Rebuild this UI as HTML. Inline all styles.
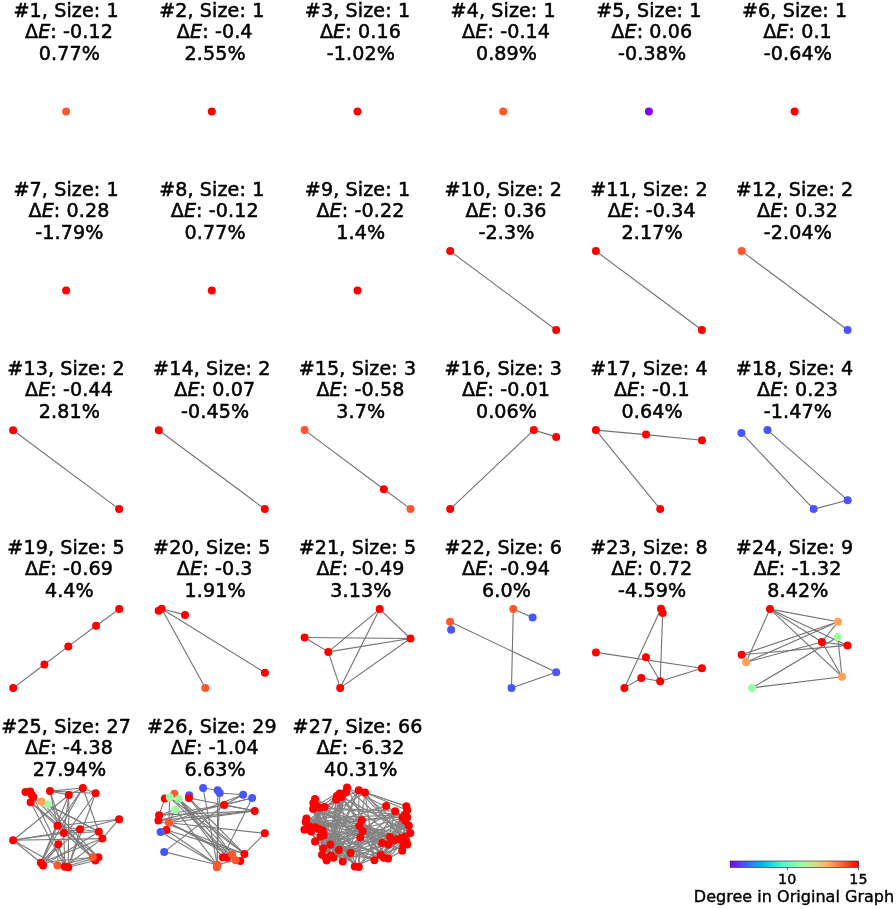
<!DOCTYPE html>
<html><head><meta charset="utf-8"><title>Subgraphs</title>
<style>
html,body{margin:0;padding:0;background:#fff}
svg{display:block}
text{font-family:"DejaVu Sans","Liberation Sans",sans-serif;fill:#000}
.t{font-size:18.67px;text-anchor:middle;letter-spacing:0.1px;stroke:#000;stroke-width:0.5px}
.i{font-style:oblique}
.e{stroke:#727272;stroke-width:1.1}
.m line{stroke:#7a7a7a}
.d line{stroke:#848484;stroke-width:1.2}
</style></head>
<body>
<svg width="896" height="909" viewBox="0 0 896 909">
<defs><linearGradient id="cb" x1="0" x2="1" y1="0" y2="0"><stop offset="0.00" stop-color="#8000ff"/><stop offset="0.05" stop-color="#6826fe"/><stop offset="0.10" stop-color="#4e4dfc"/><stop offset="0.15" stop-color="#3473f8"/><stop offset="0.20" stop-color="#1996f3"/><stop offset="0.25" stop-color="#00b5eb"/><stop offset="0.30" stop-color="#18cde4"/><stop offset="0.35" stop-color="#32e3da"/><stop offset="0.40" stop-color="#4df3ce"/><stop offset="0.45" stop-color="#66fcc2"/><stop offset="0.50" stop-color="#80ffb4"/><stop offset="0.55" stop-color="#99fca6"/><stop offset="0.60" stop-color="#b2f396"/><stop offset="0.65" stop-color="#cce385"/><stop offset="0.70" stop-color="#e6cd73"/><stop offset="0.75" stop-color="#ffb360"/><stop offset="0.80" stop-color="#ff964f"/><stop offset="0.85" stop-color="#ff733b"/><stop offset="0.90" stop-color="#ff4d27"/><stop offset="0.95" stop-color="#ff2613"/><stop offset="1.00" stop-color="#ff0000"/></linearGradient></defs>
<g class="t"><text transform="translate(66.1,16.8) scale(1.024,1)">#1, Size: 1</text><text transform="translate(69.0,37.5) scale(1.024,1)">Δ<tspan class="i">E</tspan>: -0.12</text><text transform="translate(69.4,59.7) scale(1.024,1)">0.77%</text></g>
<g class="s"><circle cx="66.1" cy="111.4" r="4" fill="#ff562c"/></g>
<g class="t"><text transform="translate(211.8,16.8) scale(1.024,1)">#2, Size: 1</text><text transform="translate(214.7,37.5) scale(1.024,1)">Δ<tspan class="i">E</tspan>: -0.4</text><text transform="translate(215.1,59.7) scale(1.024,1)">2.55%</text></g>
<g class="s"><circle cx="211.8" cy="111.4" r="4" fill="#ff0000"/></g>
<g class="t"><text transform="translate(357.5,16.8) scale(1.024,1)">#3, Size: 1</text><text transform="translate(360.4,37.5) scale(1.024,1)">Δ<tspan class="i">E</tspan>: 0.16</text><text transform="translate(360.8,59.7) scale(1.024,1)">-1.02%</text></g>
<g class="s"><circle cx="357.5" cy="111.4" r="4" fill="#ff0000"/></g>
<g class="t"><text transform="translate(503.2,16.8) scale(1.024,1)">#4, Size: 1</text><text transform="translate(506.1,37.5) scale(1.024,1)">Δ<tspan class="i">E</tspan>: -0.14</text><text transform="translate(506.5,59.7) scale(1.024,1)">0.89%</text></g>
<g class="s"><circle cx="503.2" cy="111.4" r="4" fill="#ff562c"/></g>
<g class="t"><text transform="translate(648.9,16.8) scale(1.024,1)">#5, Size: 1</text><text transform="translate(651.8,37.5) scale(1.024,1)">Δ<tspan class="i">E</tspan>: 0.06</text><text transform="translate(652.2,59.7) scale(1.024,1)">-0.38%</text></g>
<g class="s"><circle cx="648.9" cy="111.4" r="4" fill="#8000ff"/></g>
<g class="t"><text transform="translate(794.6,16.8) scale(1.024,1)">#6, Size: 1</text><text transform="translate(797.5,37.5) scale(1.024,1)">Δ<tspan class="i">E</tspan>: 0.1</text><text transform="translate(797.9,59.7) scale(1.024,1)">-0.64%</text></g>
<g class="s"><circle cx="794.6" cy="111.4" r="4" fill="#ff0000"/></g>
<g class="t"><text transform="translate(66.1,195.9) scale(1.024,1)">#7, Size: 1</text><text transform="translate(69.0,216.6) scale(1.024,1)">Δ<tspan class="i">E</tspan>: 0.28</text><text transform="translate(69.4,238.8) scale(1.024,1)">-1.79%</text></g>
<g class="s"><circle cx="66.1" cy="290.5" r="4" fill="#ff0000"/></g>
<g class="t"><text transform="translate(211.8,195.9) scale(1.024,1)">#8, Size: 1</text><text transform="translate(214.7,216.6) scale(1.024,1)">Δ<tspan class="i">E</tspan>: -0.12</text><text transform="translate(215.1,238.8) scale(1.024,1)">0.77%</text></g>
<g class="s"><circle cx="211.8" cy="290.5" r="4" fill="#ff0000"/></g>
<g class="t"><text transform="translate(357.5,195.9) scale(1.024,1)">#9, Size: 1</text><text transform="translate(360.4,216.6) scale(1.024,1)">Δ<tspan class="i">E</tspan>: -0.22</text><text transform="translate(360.8,238.8) scale(1.024,1)">1.4%</text></g>
<g class="s"><circle cx="357.5" cy="290.5" r="4" fill="#ff0000"/></g>
<g class="t"><text transform="translate(503.2,195.9) scale(1.024,1)">#10, Size: 2</text><text transform="translate(506.1,216.6) scale(1.024,1)">Δ<tspan class="i">E</tspan>: 0.36</text><text transform="translate(506.5,238.8) scale(1.024,1)">-2.3%</text></g>
<g class="s"><line class="e" x1="450.2" y1="251.1" x2="556.2" y2="330.0"/><circle cx="450.2" cy="251.1" r="4" fill="#ff0000"/><circle cx="556.2" cy="330.0" r="4" fill="#ff0000"/></g>
<g class="t"><text transform="translate(648.9,195.9) scale(1.024,1)">#11, Size: 2</text><text transform="translate(651.8,216.6) scale(1.024,1)">Δ<tspan class="i">E</tspan>: -0.34</text><text transform="translate(652.2,238.8) scale(1.024,1)">2.17%</text></g>
<g class="s"><line class="e" x1="595.9" y1="251.1" x2="701.9" y2="330.0"/><circle cx="595.9" cy="251.1" r="4" fill="#ff0000"/><circle cx="701.9" cy="330.0" r="4" fill="#ff0000"/></g>
<g class="t"><text transform="translate(794.6,195.9) scale(1.024,1)">#12, Size: 2</text><text transform="translate(797.5,216.6) scale(1.024,1)">Δ<tspan class="i">E</tspan>: 0.32</text><text transform="translate(797.9,238.8) scale(1.024,1)">-2.04%</text></g>
<g class="s"><line class="e" x1="741.6" y1="251.1" x2="847.6" y2="330.0"/><circle cx="741.6" cy="251.1" r="4" fill="#ff562c"/><circle cx="847.6" cy="330.0" r="4" fill="#4856fb"/></g>
<g class="t"><text transform="translate(66.1,375.0) scale(1.024,1)">#13, Size: 2</text><text transform="translate(69.0,395.7) scale(1.024,1)">Δ<tspan class="i">E</tspan>: -0.44</text><text transform="translate(69.4,417.9) scale(1.024,1)">2.81%</text></g>
<g class="s"><line class="e" x1="13.1" y1="430.2" x2="119.1" y2="509.1"/><circle cx="13.1" cy="430.2" r="4" fill="#ff0000"/><circle cx="119.1" cy="509.1" r="4" fill="#ff0000"/></g>
<g class="t"><text transform="translate(211.8,375.0) scale(1.024,1)">#14, Size: 2</text><text transform="translate(214.7,395.7) scale(1.024,1)">Δ<tspan class="i">E</tspan>: 0.07</text><text transform="translate(215.1,417.9) scale(1.024,1)">-0.45%</text></g>
<g class="s"><line class="e" x1="158.8" y1="430.2" x2="264.8" y2="509.1"/><circle cx="158.8" cy="430.2" r="4" fill="#ff0000"/><circle cx="264.8" cy="509.1" r="4" fill="#ff0000"/></g>
<g class="t"><text transform="translate(357.5,375.0) scale(1.024,1)">#15, Size: 3</text><text transform="translate(360.4,395.7) scale(1.024,1)">Δ<tspan class="i">E</tspan>: -0.58</text><text transform="translate(360.8,417.9) scale(1.024,1)">3.7%</text></g>
<g class="s"><line class="e" x1="304.6" y1="430.1" x2="383.9" y2="489.3"/><line class="e" x1="383.9" y1="489.3" x2="410.5" y2="508.9"/><circle cx="304.6" cy="430.1" r="4" fill="#ff562c"/><circle cx="383.9" cy="489.3" r="4" fill="#ff0000"/><circle cx="410.5" cy="508.9" r="4" fill="#ff562c"/></g>
<g class="t"><text transform="translate(503.2,375.0) scale(1.024,1)">#16, Size: 3</text><text transform="translate(506.1,395.7) scale(1.024,1)">Δ<tspan class="i">E</tspan>: -0.01</text><text transform="translate(506.5,417.9) scale(1.024,1)">0.06%</text></g>
<g class="s"><line class="e" x1="450.2" y1="509.1" x2="533.8" y2="430.1"/><line class="e" x1="533.8" y1="430.1" x2="556.2" y2="436.9"/><circle cx="450.2" cy="509.1" r="4" fill="#ff0000"/><circle cx="533.8" cy="430.1" r="4" fill="#ff0000"/><circle cx="556.2" cy="436.9" r="4" fill="#ff0000"/></g>
<g class="t"><text transform="translate(648.9,375.0) scale(1.024,1)">#17, Size: 4</text><text transform="translate(651.8,395.7) scale(1.024,1)">Δ<tspan class="i">E</tspan>: -0.1</text><text transform="translate(652.2,417.9) scale(1.024,1)">0.64%</text></g>
<g class="s"><line class="e" x1="595.9" y1="430.1" x2="646.0" y2="434.6"/><line class="e" x1="646.0" y1="434.6" x2="702.0" y2="440.3"/><line class="e" x1="595.9" y1="430.1" x2="660.2" y2="509.1"/><circle cx="595.9" cy="430.1" r="4" fill="#ff0000"/><circle cx="646.0" cy="434.6" r="4" fill="#ff0000"/><circle cx="702.0" cy="440.3" r="4" fill="#ff0000"/><circle cx="660.2" cy="509.1" r="4" fill="#ff0000"/></g>
<g class="t"><text transform="translate(794.6,375.0) scale(1.024,1)">#18, Size: 4</text><text transform="translate(797.5,395.7) scale(1.024,1)">Δ<tspan class="i">E</tspan>: 0.23</text><text transform="translate(797.9,417.9) scale(1.024,1)">-1.47%</text></g>
<g class="s"><line class="e" x1="741.4" y1="432.9" x2="813.6" y2="509.1"/><line class="e" x1="767.5" y1="430.1" x2="847.7" y2="500.2"/><line class="e" x1="813.6" y1="509.1" x2="847.7" y2="500.2"/><circle cx="741.4" cy="432.9" r="4" fill="#4856fb"/><circle cx="767.5" cy="430.1" r="4" fill="#4856fb"/><circle cx="813.6" cy="509.1" r="4" fill="#4856fb"/><circle cx="847.7" cy="500.2" r="4" fill="#4856fb"/></g>
<g class="t"><text transform="translate(66.1,554.1) scale(1.024,1)">#19, Size: 5</text><text transform="translate(69.0,574.8) scale(1.024,1)">Δ<tspan class="i">E</tspan>: -0.69</text><text transform="translate(69.4,597.0) scale(1.024,1)">4.4%</text></g>
<g class="s"><line class="e" x1="13.2" y1="688.1" x2="44.4" y2="664.5"/><line class="e" x1="44.4" y1="664.5" x2="68.3" y2="646.4"/><line class="e" x1="68.3" y1="646.4" x2="96.1" y2="625.8"/><line class="e" x1="96.1" y1="625.8" x2="119.2" y2="609.1"/><circle cx="13.2" cy="688.1" r="4" fill="#ff0000"/><circle cx="44.4" cy="664.5" r="4" fill="#ff0000"/><circle cx="68.3" cy="646.4" r="4" fill="#ff0000"/><circle cx="96.1" cy="625.8" r="4" fill="#ff0000"/><circle cx="119.2" cy="609.1" r="4" fill="#ff0000"/></g>
<g class="t"><text transform="translate(211.8,554.1) scale(1.024,1)">#20, Size: 5</text><text transform="translate(214.7,574.8) scale(1.024,1)">Δ<tspan class="i">E</tspan>: -0.3</text><text transform="translate(215.1,597.0) scale(1.024,1)">1.91%</text></g>
<g class="s"><line class="e" x1="158.6" y1="610.7" x2="161.7" y2="608.7"/><line class="e" x1="161.7" y1="608.7" x2="185.0" y2="614.9"/><line class="e" x1="161.7" y1="608.7" x2="264.9" y2="672.7"/><line class="e" x1="161.7" y1="608.7" x2="205.3" y2="687.9"/><circle cx="158.6" cy="610.7" r="4" fill="#ff0000"/><circle cx="161.7" cy="608.7" r="4" fill="#ff0000"/><circle cx="185.0" cy="614.9" r="4" fill="#ff0000"/><circle cx="264.9" cy="672.7" r="4" fill="#ff0000"/><circle cx="205.3" cy="687.9" r="4" fill="#ff562c"/></g>
<g class="t"><text transform="translate(357.5,554.1) scale(1.024,1)">#21, Size: 5</text><text transform="translate(360.4,574.8) scale(1.024,1)">Δ<tspan class="i">E</tspan>: -0.49</text><text transform="translate(360.8,597.0) scale(1.024,1)">3.13%</text></g>
<g class="s"><line class="e" x1="304.6" y1="637.5" x2="328.3" y2="651.9"/><line class="e" x1="304.6" y1="637.5" x2="410.5" y2="638.5"/><line class="e" x1="328.3" y1="651.9" x2="379.7" y2="609.1"/><line class="e" x1="328.3" y1="651.9" x2="410.5" y2="638.5"/><line class="e" x1="328.3" y1="651.9" x2="340.2" y2="687.9"/><line class="e" x1="379.7" y1="609.1" x2="410.5" y2="638.5"/><line class="e" x1="379.7" y1="609.1" x2="340.2" y2="687.9"/><line class="e" x1="410.5" y1="638.5" x2="340.2" y2="687.9"/><circle cx="304.6" cy="637.5" r="4" fill="#ff0000"/><circle cx="328.3" cy="651.9" r="4" fill="#ff0000"/><circle cx="379.7" cy="609.1" r="4" fill="#ff0000"/><circle cx="410.5" cy="638.5" r="4" fill="#ff0000"/><circle cx="340.2" cy="687.9" r="4" fill="#ff0000"/></g>
<g class="t"><text transform="translate(503.2,554.1) scale(1.024,1)">#22, Size: 6</text><text transform="translate(506.1,574.8) scale(1.024,1)">Δ<tspan class="i">E</tspan>: -0.94</text><text transform="translate(506.5,597.0) scale(1.024,1)">6.0%</text></g>
<g class="s"><line class="e" x1="451.1" y1="629.8" x2="450.1" y2="621.8"/><line class="e" x1="450.1" y1="621.8" x2="556.2" y2="672.2"/><line class="e" x1="513.3" y1="609.1" x2="532.6" y2="617.4"/><line class="e" x1="513.3" y1="609.1" x2="511.5" y2="687.9"/><line class="e" x1="556.2" y1="672.2" x2="511.5" y2="687.9"/><circle cx="451.1" cy="629.8" r="4" fill="#4856fb"/><circle cx="450.1" cy="621.8" r="4" fill="#ff562c"/><circle cx="513.3" cy="609.1" r="4" fill="#ff562c"/><circle cx="532.6" cy="617.4" r="4" fill="#4856fb"/><circle cx="556.2" cy="672.2" r="4" fill="#4856fb"/><circle cx="511.5" cy="687.9" r="4" fill="#4856fb"/></g>
<g class="t"><text transform="translate(648.9,554.1) scale(1.024,1)">#23, Size: 8</text><text transform="translate(651.8,574.8) scale(1.024,1)">Δ<tspan class="i">E</tspan>: 0.72</text><text transform="translate(652.2,597.0) scale(1.024,1)">-4.59%</text></g>
<g class="s"><line class="e" x1="661.0" y1="608.7" x2="624.4" y2="687.9"/><line class="e" x1="662.7" y1="612.9" x2="660.2" y2="681.2"/><line class="e" x1="595.9" y1="652.4" x2="701.9" y2="668.2"/><line class="e" x1="646.0" y1="657.3" x2="660.2" y2="681.2"/><line class="e" x1="641.3" y1="678.0" x2="660.2" y2="681.2"/><line class="e" x1="641.3" y1="678.0" x2="624.4" y2="687.9"/><line class="e" x1="660.2" y1="681.2" x2="701.9" y2="668.2"/><line class="e" x1="661.0" y1="608.7" x2="662.7" y2="612.9"/><circle cx="661.0" cy="608.7" r="4" fill="#ff0000"/><circle cx="662.7" cy="612.9" r="4" fill="#ff0000"/><circle cx="595.9" cy="652.4" r="4" fill="#ff0000"/><circle cx="646.0" cy="657.3" r="4" fill="#ff0000"/><circle cx="701.9" cy="668.2" r="4" fill="#ff0000"/><circle cx="641.3" cy="678.0" r="4" fill="#ff0000"/><circle cx="660.2" cy="681.2" r="4" fill="#ff0000"/><circle cx="624.4" cy="687.9" r="4" fill="#ff0000"/></g>
<g class="t"><text transform="translate(794.6,554.1) scale(1.024,1)">#24, Size: 9</text><text transform="translate(797.5,574.8) scale(1.024,1)">Δ<tspan class="i">E</tspan>: -1.32</text><text transform="translate(797.9,597.0) scale(1.024,1)">8.42%</text></g>
<g class="s"><line class="e" x1="770.0" y1="609.1" x2="838.0" y2="621.8"/><line class="e" x1="770.0" y1="609.1" x2="847.5" y2="645.4"/><line class="e" x1="770.0" y1="609.1" x2="821.9" y2="642.0"/><line class="e" x1="770.0" y1="609.1" x2="842.0" y2="676.7"/><line class="e" x1="770.0" y1="609.1" x2="746.1" y2="662.3"/><line class="e" x1="838.0" y1="621.8" x2="741.6" y2="654.8"/><line class="e" x1="838.0" y1="621.8" x2="746.1" y2="662.3"/><line class="e" x1="838.0" y1="621.8" x2="821.9" y2="642.0"/><line class="e" x1="741.6" y1="654.8" x2="847.5" y2="645.4"/><line class="e" x1="746.1" y1="662.3" x2="821.9" y2="642.0"/><line class="e" x1="837.7" y1="637.0" x2="752.1" y2="687.9"/><line class="e" x1="837.7" y1="637.0" x2="842.0" y2="676.7"/><line class="e" x1="821.9" y1="642.0" x2="842.0" y2="676.7"/><line class="e" x1="842.0" y1="676.7" x2="752.1" y2="687.9"/><line class="e" x1="821.9" y1="642.0" x2="847.5" y2="645.4"/><circle cx="770.0" cy="609.1" r="4" fill="#ff0000"/><circle cx="838.0" cy="621.8" r="4" fill="#ffa256"/><circle cx="837.7" cy="637.0" r="4" fill="#9cfba4"/><circle cx="821.9" cy="642.0" r="4" fill="#ff0000"/><circle cx="847.5" cy="645.4" r="4" fill="#ff0000"/><circle cx="741.6" cy="654.8" r="4" fill="#ff0000"/><circle cx="746.1" cy="662.3" r="4" fill="#ffa256"/><circle cx="842.0" cy="676.7" r="4" fill="#ffa256"/><circle cx="752.1" cy="687.9" r="4" fill="#9cfba4"/></g>
<g class="t"><text transform="translate(66.1,733.2) scale(1.024,1)">#25, Size: 27</text><text transform="translate(69.0,753.9) scale(1.024,1)">Δ<tspan class="i">E</tspan>: -4.38</text><text transform="translate(69.4,776.1) scale(1.024,1)">27.94%</text></g>
<g class="m"><line class="e" x1="13.1" y1="840.2" x2="68.8" y2="795.0"/><line class="e" x1="13.1" y1="840.2" x2="80.0" y2="829.2"/><line class="e" x1="13.1" y1="840.2" x2="102.3" y2="838.6"/><line class="e" x1="13.1" y1="840.2" x2="40.9" y2="862.8"/><line class="e" x1="13.1" y1="840.2" x2="57.5" y2="865.6"/><line class="e" x1="13.1" y1="840.2" x2="63.8" y2="833.1"/><line class="e" x1="119.1" y1="819.2" x2="57.5" y2="825.8"/><line class="e" x1="119.1" y1="819.2" x2="63.8" y2="833.1"/><line class="e" x1="119.1" y1="819.2" x2="102.3" y2="838.6"/><line class="e" x1="50.0" y1="791.1" x2="95.6" y2="793.3"/><line class="e" x1="68.8" y1="795.0" x2="82.8" y2="788.0"/><line class="e" x1="82.8" y1="788.0" x2="95.6" y2="793.3"/><line class="e" x1="50.0" y1="791.1" x2="68.8" y2="795.0"/><line class="e" x1="50.0" y1="791.1" x2="82.8" y2="788.0"/><line class="e" x1="82.8" y1="788.0" x2="98.8" y2="831.7"/><line class="e" x1="95.6" y1="793.3" x2="68.3" y2="867.2"/><line class="e" x1="95.6" y1="793.3" x2="43.0" y2="865.6"/><line class="e" x1="82.8" y1="788.0" x2="40.9" y2="862.8"/><line class="e" x1="68.8" y1="795.0" x2="68.3" y2="867.2"/><line class="e" x1="68.8" y1="795.0" x2="40.9" y2="862.8"/><line class="e" x1="33.3" y1="796.9" x2="92.7" y2="857.3"/><line class="e" x1="30.6" y1="802.3" x2="98.4" y2="857.3"/><line class="e" x1="30.6" y1="802.3" x2="95.3" y2="860.5"/><line class="e" x1="41.4" y1="801.6" x2="92.7" y2="857.3"/><line class="e" x1="33.3" y1="796.9" x2="68.3" y2="867.2"/><line class="e" x1="40.9" y1="862.8" x2="58.3" y2="844.2"/><line class="e" x1="41.4" y1="801.6" x2="98.8" y2="831.7"/><line class="e" x1="47.7" y1="804.4" x2="98.8" y2="831.7"/><line class="e" x1="47.7" y1="804.4" x2="98.4" y2="857.3"/><line class="e" x1="30.6" y1="802.3" x2="64.8" y2="866.7"/><line class="e" x1="50.0" y1="791.1" x2="57.5" y2="825.8"/><line class="e" x1="50.0" y1="791.1" x2="63.8" y2="833.1"/><line class="e" x1="57.5" y1="825.8" x2="80.0" y2="829.2"/><line class="e" x1="80.0" y1="829.2" x2="98.8" y2="831.7"/><line class="e" x1="63.8" y1="833.1" x2="98.8" y2="831.7"/><line class="e" x1="58.3" y1="844.2" x2="57.5" y2="865.6"/><line class="e" x1="58.3" y1="844.2" x2="64.8" y2="866.7"/><line class="e" x1="63.8" y1="833.1" x2="64.8" y2="866.7"/><line class="e" x1="57.5" y1="825.8" x2="40.9" y2="862.8"/><line class="e" x1="80.0" y1="829.2" x2="68.3" y2="867.2"/><line class="e" x1="57.5" y1="865.6" x2="92.7" y2="857.3"/><line class="e" x1="64.8" y1="866.7" x2="98.4" y2="857.3"/><line class="e" x1="68.3" y1="867.2" x2="95.3" y2="860.5"/><line class="e" x1="40.9" y1="862.8" x2="92.7" y2="857.3"/><line class="e" x1="40.9" y1="862.8" x2="102.3" y2="838.6"/><line class="e" x1="43.0" y1="865.6" x2="98.8" y2="831.7"/><line class="e" x1="40.9" y1="862.8" x2="80.0" y2="829.2"/><line class="e" x1="102.3" y1="838.6" x2="64.8" y2="866.7"/><line class="e" x1="25.5" y1="792.0" x2="30.2" y2="791.6"/><line class="e" x1="30.2" y1="791.6" x2="31.7" y2="794.7"/><line class="e" x1="31.7" y1="794.7" x2="33.3" y2="796.9"/><line class="e" x1="33.3" y1="796.9" x2="30.6" y2="802.3"/><line class="e" x1="82.8" y1="788.0" x2="57.5" y2="825.8"/><line class="e" x1="68.8" y1="795.0" x2="63.8" y2="833.1"/><circle cx="25.5" cy="792.0" r="4" fill="#ff0000"/><circle cx="30.2" cy="791.6" r="4" fill="#ff0000"/><circle cx="31.7" cy="794.7" r="4" fill="#ff0000"/><circle cx="33.3" cy="796.9" r="4" fill="#ff0000"/><circle cx="30.6" cy="802.3" r="4" fill="#ff0000"/><circle cx="47.7" cy="804.4" r="4" fill="#9cfba4"/><circle cx="41.4" cy="801.6" r="4" fill="#ffa256"/><circle cx="50.0" cy="791.1" r="4" fill="#ff0000"/><circle cx="68.8" cy="795.0" r="4" fill="#ff0000"/><circle cx="82.8" cy="788.0" r="4" fill="#ff0000"/><circle cx="95.6" cy="793.3" r="4" fill="#ff0000"/><circle cx="119.1" cy="819.2" r="4" fill="#ff0000"/><circle cx="57.5" cy="825.8" r="4" fill="#ff0000"/><circle cx="63.8" cy="833.1" r="4" fill="#ff0000"/><circle cx="80.0" cy="829.2" r="4" fill="#ff0000"/><circle cx="98.8" cy="831.7" r="4" fill="#ff0000"/><circle cx="102.3" cy="838.6" r="4" fill="#ff0000"/><circle cx="13.1" cy="840.2" r="4" fill="#ff0000"/><circle cx="58.3" cy="844.2" r="4" fill="#ff0000"/><circle cx="40.9" cy="862.8" r="4" fill="#ff0000"/><circle cx="43.0" cy="865.6" r="4" fill="#ff0000"/><circle cx="57.5" cy="865.6" r="4" fill="#ff562c"/><circle cx="64.8" cy="866.7" r="4" fill="#ff0000"/><circle cx="68.3" cy="867.2" r="4" fill="#ff0000"/><circle cx="98.4" cy="857.3" r="4" fill="#ff0000"/><circle cx="95.3" cy="860.5" r="4" fill="#ff0000"/><circle cx="92.7" cy="857.3" r="4" fill="#ff562c"/></g>
<g class="t"><text transform="translate(211.8,733.2) scale(1.024,1)">#26, Size: 29</text><text transform="translate(214.7,753.9) scale(1.024,1)">Δ<tspan class="i">E</tspan>: -1.04</text><text transform="translate(215.1,776.1) scale(1.024,1)">6.63%</text></g>
<g class="m"><line class="e" x1="203.1" y1="788.0" x2="217.7" y2="790.3"/><line class="e" x1="219.7" y1="793.0" x2="243.1" y2="794.8"/><line class="e" x1="243.1" y1="794.8" x2="224.2" y2="805.0"/><line class="e" x1="252.2" y1="798.0" x2="224.2" y2="805.0"/><line class="e" x1="224.2" y1="805.0" x2="254.7" y2="810.9"/><line class="e" x1="252.2" y1="798.0" x2="222.7" y2="857.3"/><line class="e" x1="254.7" y1="810.9" x2="159.1" y2="815.3"/><line class="e" x1="254.7" y1="810.9" x2="168.9" y2="822.7"/><line class="e" x1="254.7" y1="810.9" x2="158.4" y2="820.6"/><line class="e" x1="243.1" y1="794.8" x2="168.9" y2="822.7"/><line class="e" x1="252.2" y1="798.0" x2="158.4" y2="820.6"/><line class="e" x1="264.8" y1="833.3" x2="168.9" y2="822.7"/><line class="e" x1="264.8" y1="833.3" x2="244.4" y2="853.9"/><line class="e" x1="164.2" y1="851.9" x2="224.2" y2="805.0"/><line class="e" x1="164.2" y1="851.9" x2="217.2" y2="864.8"/><line class="e" x1="160.6" y1="832.0" x2="217.2" y2="864.8"/><line class="e" x1="166.4" y1="830.0" x2="244.4" y2="853.9"/><line class="e" x1="158.4" y1="820.6" x2="244.4" y2="853.9"/><line class="e" x1="203.1" y1="788.0" x2="217.2" y2="864.8"/><line class="e" x1="217.7" y1="790.3" x2="217.2" y2="864.8"/><line class="e" x1="219.7" y1="793.0" x2="216.9" y2="867.2"/><line class="e" x1="175.2" y1="809.4" x2="217.2" y2="864.8"/><line class="e" x1="164.8" y1="798.4" x2="159.1" y2="815.3"/><line class="e" x1="169.7" y1="797.3" x2="168.9" y2="822.7"/><line class="e" x1="175.2" y1="809.4" x2="168.9" y2="822.7"/><line class="e" x1="175.2" y1="809.4" x2="159.1" y2="815.3"/><line class="e" x1="188.9" y1="798.0" x2="254.7" y2="810.9"/><line class="e" x1="188.9" y1="798.0" x2="244.4" y2="853.9"/><line class="e" x1="188.9" y1="798.0" x2="232.2" y2="854.4"/><line class="e" x1="178.6" y1="798.9" x2="244.4" y2="853.9"/><line class="e" x1="178.6" y1="798.9" x2="232.2" y2="854.4"/><line class="e" x1="169.7" y1="797.3" x2="244.4" y2="853.9"/><line class="e" x1="169.7" y1="797.3" x2="235.6" y2="860.2"/><line class="e" x1="178.6" y1="798.9" x2="227.3" y2="857.8"/><line class="e" x1="217.2" y1="864.8" x2="235.6" y2="860.2"/><line class="e" x1="168.9" y1="822.7" x2="232.2" y2="854.4"/><line class="e" x1="166.4" y1="830.0" x2="217.2" y2="864.8"/><line class="e" x1="174.4" y1="793.8" x2="222.7" y2="857.3"/><line class="e" x1="159.1" y1="815.3" x2="224.2" y2="805.0"/><line class="e" x1="168.9" y1="822.7" x2="240.3" y2="860.9"/><circle cx="164.8" cy="798.4" r="4" fill="#ff0000"/><circle cx="174.4" cy="793.8" r="4" fill="#ff562c"/><circle cx="169.7" cy="797.3" r="4" fill="#9cfba4"/><circle cx="178.6" cy="798.9" r="4" fill="#9cfba4"/><circle cx="175.2" cy="809.4" r="4" fill="#9cfba4"/><circle cx="189.2" cy="795.3" r="4" fill="#4856fb"/><circle cx="188.9" cy="798.0" r="4" fill="#ff0000"/><circle cx="203.1" cy="788.0" r="4" fill="#4856fb"/><circle cx="217.7" cy="790.3" r="4" fill="#4856fb"/><circle cx="219.7" cy="793.0" r="4" fill="#4856fb"/><circle cx="243.1" cy="794.8" r="4" fill="#4856fb"/><circle cx="252.2" cy="798.0" r="4" fill="#4856fb"/><circle cx="224.2" cy="805.0" r="4" fill="#ff0000"/><circle cx="254.7" cy="810.9" r="4" fill="#ff0000"/><circle cx="159.1" cy="815.3" r="4" fill="#ff0000"/><circle cx="158.4" cy="820.6" r="4" fill="#ff0000"/><circle cx="168.9" cy="822.7" r="4" fill="#ff562c"/><circle cx="166.4" cy="830.0" r="4" fill="#ff0000"/><circle cx="160.6" cy="832.0" r="4" fill="#4856fb"/><circle cx="164.2" cy="851.9" r="4" fill="#4856fb"/><circle cx="264.8" cy="833.3" r="4" fill="#ff0000"/><circle cx="222.7" cy="857.3" r="4" fill="#ff0000"/><circle cx="227.3" cy="857.8" r="4" fill="#ff0000"/><circle cx="240.3" cy="860.9" r="4" fill="#ff0000"/><circle cx="244.4" cy="853.9" r="4" fill="#ff0000"/><circle cx="232.2" cy="854.4" r="4" fill="#ff562c"/><circle cx="235.6" cy="860.2" r="4" fill="#ff562c"/><circle cx="217.2" cy="864.8" r="4" fill="#ff562c"/><circle cx="216.9" cy="867.2" r="4" fill="#ff562c"/></g>
<g class="t"><text transform="translate(357.5,733.2) scale(1.024,1)">#27, Size: 66</text><text transform="translate(360.4,753.9) scale(1.024,1)">Δ<tspan class="i">E</tspan>: -6.32</text><text transform="translate(360.8,776.1) scale(1.024,1)">40.31%</text></g>
<g class="d"><line class="e" x1="347.0" y1="787.5" x2="319.7" y2="807.8"/><line class="e" x1="347.0" y1="787.5" x2="316.6" y2="805.5"/><line class="e" x1="347.0" y1="787.5" x2="325.9" y2="857.8"/><line class="e" x1="347.0" y1="787.5" x2="407.2" y2="817.2"/><line class="e" x1="347.0" y1="787.5" x2="406.4" y2="841.4"/><line class="e" x1="347.0" y1="787.5" x2="380.6" y2="855.0"/><line class="e" x1="346.2" y1="791.9" x2="330.3" y2="844.5"/><line class="e" x1="346.2" y1="791.9" x2="326.7" y2="860.6"/><line class="e" x1="339.7" y1="793.4" x2="304.4" y2="829.7"/><line class="e" x1="339.7" y1="793.4" x2="318.9" y2="828.9"/><line class="e" x1="339.7" y1="793.4" x2="330.3" y2="844.5"/><line class="e" x1="339.7" y1="793.4" x2="333.4" y2="857.8"/><line class="e" x1="339.7" y1="793.4" x2="338.9" y2="850.0"/><line class="e" x1="339.7" y1="793.4" x2="350.6" y2="853.1"/><line class="e" x1="339.7" y1="793.4" x2="403.3" y2="845.3"/><line class="e" x1="339.7" y1="793.4" x2="388.1" y2="858.6"/><line class="e" x1="336.9" y1="796.1" x2="304.4" y2="829.7"/><line class="e" x1="336.1" y1="799.7" x2="326.7" y2="860.6"/><line class="e" x1="336.1" y1="799.7" x2="333.4" y2="857.8"/><line class="e" x1="358.8" y1="790.3" x2="324.7" y2="807.0"/><line class="e" x1="358.8" y1="790.3" x2="320.5" y2="836.4"/><line class="e" x1="358.8" y1="790.3" x2="325.9" y2="857.8"/><line class="e" x1="358.8" y1="790.3" x2="330.9" y2="855.5"/><line class="e" x1="358.8" y1="790.3" x2="358.8" y2="866.9"/><line class="e" x1="358.8" y1="790.3" x2="406.4" y2="806.2"/><line class="e" x1="358.8" y1="790.3" x2="410.3" y2="833.1"/><line class="e" x1="358.8" y1="790.3" x2="406.4" y2="841.4"/><line class="e" x1="365.0" y1="792.5" x2="304.4" y2="829.7"/><line class="e" x1="365.0" y1="792.5" x2="354.8" y2="866.4"/><line class="e" x1="365.0" y1="792.5" x2="406.4" y2="806.2"/><line class="e" x1="365.0" y1="792.5" x2="407.2" y2="810.2"/><line class="e" x1="365.0" y1="792.5" x2="401.7" y2="837.5"/><line class="e" x1="365.0" y1="792.5" x2="374.4" y2="860.2"/><line class="e" x1="341.6" y1="796.9" x2="305.6" y2="821.9"/><line class="e" x1="341.6" y1="796.9" x2="333.4" y2="857.8"/><line class="e" x1="341.6" y1="796.9" x2="410.3" y2="833.1"/><line class="e" x1="341.6" y1="796.9" x2="380.6" y2="855.0"/><line class="e" x1="341.6" y1="796.9" x2="383.8" y2="857.8"/><line class="e" x1="315.0" y1="798.9" x2="323.1" y2="848.4"/><line class="e" x1="315.0" y1="798.9" x2="325.9" y2="857.8"/><line class="e" x1="315.0" y1="798.9" x2="403.3" y2="845.3"/><line class="e" x1="313.4" y1="803.1" x2="318.9" y2="828.9"/><line class="e" x1="313.4" y1="803.1" x2="330.3" y2="844.5"/><line class="e" x1="313.4" y1="803.1" x2="323.1" y2="848.4"/><line class="e" x1="313.4" y1="803.1" x2="330.9" y2="855.5"/><line class="e" x1="313.4" y1="803.1" x2="342.7" y2="861.4"/><line class="e" x1="313.4" y1="803.1" x2="358.8" y2="866.9"/><line class="e" x1="313.4" y1="803.1" x2="360.3" y2="837.5"/><line class="e" x1="313.1" y1="809.1" x2="326.7" y2="860.6"/><line class="e" x1="313.1" y1="809.1" x2="333.4" y2="857.8"/><line class="e" x1="313.1" y1="809.1" x2="342.7" y2="861.4"/><line class="e" x1="313.1" y1="809.1" x2="362.7" y2="831.2"/><line class="e" x1="313.1" y1="809.1" x2="397.8" y2="839.1"/><line class="e" x1="319.7" y1="807.8" x2="311.1" y2="831.6"/><line class="e" x1="319.7" y1="807.8" x2="322.0" y2="854.7"/><line class="e" x1="319.7" y1="807.8" x2="342.7" y2="861.4"/><line class="e" x1="319.7" y1="807.8" x2="354.8" y2="866.4"/><line class="e" x1="319.7" y1="807.8" x2="395.2" y2="811.2"/><line class="e" x1="319.7" y1="807.8" x2="404.8" y2="814.8"/><line class="e" x1="319.7" y1="807.8" x2="393.9" y2="840.6"/><line class="e" x1="319.7" y1="807.8" x2="388.1" y2="858.6"/><line class="e" x1="324.7" y1="807.0" x2="322.0" y2="854.7"/><line class="e" x1="316.6" y1="805.5" x2="320.5" y2="836.4"/><line class="e" x1="316.6" y1="805.5" x2="325.9" y2="857.8"/><line class="e" x1="316.6" y1="805.5" x2="326.7" y2="860.6"/><line class="e" x1="316.6" y1="805.5" x2="388.4" y2="844.5"/><line class="e" x1="316.6" y1="805.5" x2="406.4" y2="841.4"/><line class="e" x1="306.4" y1="818.4" x2="404.8" y2="814.8"/><line class="e" x1="306.4" y1="818.4" x2="390.0" y2="837.0"/><line class="e" x1="306.4" y1="818.4" x2="383.8" y2="857.8"/><line class="e" x1="305.6" y1="821.9" x2="325.9" y2="857.8"/><line class="e" x1="305.6" y1="821.9" x2="407.2" y2="817.2"/><line class="e" x1="305.6" y1="821.9" x2="410.3" y2="833.1"/><line class="e" x1="305.6" y1="821.9" x2="406.4" y2="841.4"/><line class="e" x1="304.4" y1="829.7" x2="358.8" y2="866.9"/><line class="e" x1="304.4" y1="829.7" x2="374.4" y2="860.2"/><line class="e" x1="309.5" y1="826.6" x2="358.8" y2="866.9"/><line class="e" x1="309.5" y1="826.6" x2="361.9" y2="820.3"/><line class="e" x1="309.5" y1="826.6" x2="359.5" y2="825.8"/><line class="e" x1="309.5" y1="826.6" x2="407.2" y2="844.5"/><line class="e" x1="315.0" y1="827.3" x2="358.8" y2="866.9"/><line class="e" x1="315.0" y1="827.3" x2="386.1" y2="805.9"/><line class="e" x1="315.0" y1="827.3" x2="404.8" y2="814.8"/><line class="e" x1="315.0" y1="827.3" x2="380.6" y2="855.0"/><line class="e" x1="315.0" y1="827.3" x2="383.8" y2="857.8"/><line class="e" x1="315.0" y1="827.3" x2="374.4" y2="860.2"/><line class="e" x1="318.9" y1="828.9" x2="325.9" y2="857.8"/><line class="e" x1="318.9" y1="828.9" x2="342.7" y2="861.4"/><line class="e" x1="323.6" y1="835.2" x2="350.6" y2="853.1"/><line class="e" x1="320.5" y1="836.4" x2="333.4" y2="857.8"/><line class="e" x1="320.5" y1="836.4" x2="342.7" y2="861.4"/><line class="e" x1="315.0" y1="841.4" x2="330.9" y2="855.5"/><line class="e" x1="315.0" y1="841.4" x2="359.5" y2="825.8"/><line class="e" x1="315.0" y1="841.4" x2="402.5" y2="818.0"/><line class="e" x1="315.0" y1="841.4" x2="374.4" y2="860.2"/><line class="e" x1="330.3" y1="844.5" x2="342.7" y2="861.4"/><line class="e" x1="330.3" y1="844.5" x2="362.7" y2="831.2"/><line class="e" x1="330.3" y1="844.5" x2="397.8" y2="839.1"/><line class="e" x1="330.3" y1="844.5" x2="383.8" y2="857.8"/><line class="e" x1="323.1" y1="848.4" x2="361.9" y2="820.3"/><line class="e" x1="323.1" y1="848.4" x2="395.2" y2="811.2"/><line class="e" x1="323.1" y1="848.4" x2="405.6" y2="821.1"/><line class="e" x1="322.0" y1="854.7" x2="361.9" y2="820.3"/><line class="e" x1="322.0" y1="854.7" x2="359.5" y2="825.8"/><line class="e" x1="322.0" y1="854.7" x2="362.7" y2="831.2"/><line class="e" x1="322.0" y1="854.7" x2="388.1" y2="858.6"/><line class="e" x1="326.7" y1="860.6" x2="359.5" y2="825.8"/><line class="e" x1="326.7" y1="860.6" x2="405.6" y2="821.1"/><line class="e" x1="333.4" y1="857.8" x2="360.3" y2="837.5"/><line class="e" x1="333.4" y1="857.8" x2="408.8" y2="825.8"/><line class="e" x1="338.9" y1="850.0" x2="361.9" y2="820.3"/><line class="e" x1="338.9" y1="850.0" x2="407.2" y2="817.2"/><line class="e" x1="338.9" y1="850.0" x2="390.0" y2="837.0"/><line class="e" x1="342.7" y1="861.4" x2="361.9" y2="820.3"/><line class="e" x1="342.7" y1="861.4" x2="386.1" y2="805.9"/><line class="e" x1="342.7" y1="861.4" x2="395.2" y2="811.2"/><line class="e" x1="342.7" y1="861.4" x2="404.8" y2="836.7"/><line class="e" x1="350.6" y1="853.1" x2="390.0" y2="837.0"/><line class="e" x1="350.6" y1="853.1" x2="388.4" y2="844.5"/><line class="e" x1="354.8" y1="866.4" x2="388.4" y2="844.5"/><line class="e" x1="354.8" y1="866.4" x2="403.3" y2="845.3"/><line class="e" x1="358.8" y1="866.9" x2="361.9" y2="820.3"/><line class="e" x1="358.8" y1="866.9" x2="395.2" y2="811.2"/><line class="e" x1="361.9" y1="820.3" x2="388.1" y2="858.6"/><line class="e" x1="361.9" y1="820.3" x2="374.4" y2="860.2"/><line class="e" x1="359.5" y1="825.8" x2="406.4" y2="841.4"/><line class="e" x1="359.5" y1="825.8" x2="402.2" y2="850.8"/><line class="e" x1="362.7" y1="831.2" x2="401.7" y2="837.5"/><line class="e" x1="362.7" y1="831.2" x2="388.4" y2="844.5"/><line class="e" x1="407.2" y1="817.2" x2="404.8" y2="814.8"/><line class="e" x1="407.2" y1="817.2" x2="390.0" y2="837.0"/><line class="e" x1="407.2" y1="817.2" x2="388.4" y2="844.5"/><line class="e" x1="407.2" y1="817.2" x2="388.1" y2="858.6"/><line class="e" x1="395.2" y1="811.2" x2="410.3" y2="833.1"/><line class="e" x1="395.2" y1="811.2" x2="383.8" y2="857.8"/><line class="e" x1="406.4" y1="806.2" x2="397.8" y2="839.1"/><line class="e" x1="406.4" y1="806.2" x2="388.4" y2="844.5"/><line class="e" x1="406.4" y1="806.2" x2="403.3" y2="845.3"/><line class="e" x1="406.4" y1="806.2" x2="383.8" y2="857.8"/><line class="e" x1="407.2" y1="810.2" x2="406.4" y2="841.4"/><line class="e" x1="407.2" y1="810.2" x2="407.2" y2="844.5"/><line class="e" x1="404.8" y1="814.8" x2="393.9" y2="840.6"/><line class="e" x1="404.8" y1="814.8" x2="403.3" y2="845.3"/><line class="e" x1="405.6" y1="821.1" x2="388.4" y2="844.5"/><line class="e" x1="408.8" y1="825.8" x2="410.3" y2="833.1"/><line class="e" x1="410.3" y1="833.1" x2="407.2" y2="844.5"/><line class="e" x1="410.3" y1="833.1" x2="380.6" y2="855.0"/><line class="e" x1="410.3" y1="833.1" x2="383.8" y2="857.8"/><line class="e" x1="410.3" y1="833.1" x2="388.1" y2="858.6"/><line class="e" x1="397.8" y1="839.1" x2="380.6" y2="855.0"/><line class="e" x1="393.9" y1="840.6" x2="374.4" y2="860.2"/><line class="e" x1="390.0" y1="837.0" x2="388.4" y2="844.5"/><line class="e" x1="390.0" y1="837.0" x2="374.4" y2="860.2"/><line class="e" x1="407.2" y1="844.5" x2="380.6" y2="855.0"/><line class="e" x1="402.2" y1="850.8" x2="388.1" y2="858.6"/><circle cx="347.0" cy="787.5" r="4" fill="#ff0000"/><circle cx="346.2" cy="791.9" r="4" fill="#ff0000"/><circle cx="339.7" cy="793.4" r="4" fill="#ff0000"/><circle cx="336.9" cy="796.1" r="4" fill="#ff0000"/><circle cx="336.1" cy="799.7" r="4" fill="#ff0000"/><circle cx="358.8" cy="790.3" r="4" fill="#ff0000"/><circle cx="365.0" cy="792.5" r="4" fill="#ff0000"/><circle cx="341.6" cy="796.9" r="4" fill="#ff0000"/><circle cx="315.0" cy="798.9" r="4" fill="#ff0000"/><circle cx="313.4" cy="803.1" r="4" fill="#ff0000"/><circle cx="313.1" cy="809.1" r="4" fill="#ff0000"/><circle cx="319.7" cy="807.8" r="4" fill="#ff0000"/><circle cx="324.7" cy="807.0" r="4" fill="#ff0000"/><circle cx="316.6" cy="805.5" r="4" fill="#ff0000"/><circle cx="306.4" cy="818.4" r="4" fill="#ff0000"/><circle cx="305.6" cy="821.9" r="4" fill="#ff0000"/><circle cx="304.4" cy="829.7" r="4" fill="#ff0000"/><circle cx="309.5" cy="826.6" r="4" fill="#ff0000"/><circle cx="311.1" cy="831.6" r="4" fill="#ff0000"/><circle cx="315.0" cy="827.3" r="4" fill="#ff0000"/><circle cx="318.9" cy="828.9" r="4" fill="#ff0000"/><circle cx="322.8" cy="830.5" r="4" fill="#ff0000"/><circle cx="323.6" cy="835.2" r="4" fill="#ff0000"/><circle cx="320.5" cy="836.4" r="4" fill="#ff0000"/><circle cx="315.0" cy="841.4" r="4" fill="#ff0000"/><circle cx="330.3" cy="844.5" r="4" fill="#ff0000"/><circle cx="323.1" cy="848.4" r="4" fill="#ff0000"/><circle cx="322.0" cy="854.7" r="4" fill="#ff0000"/><circle cx="325.9" cy="857.8" r="4" fill="#ff0000"/><circle cx="326.7" cy="860.6" r="4" fill="#ff0000"/><circle cx="330.9" cy="855.5" r="4" fill="#ff0000"/><circle cx="333.4" cy="857.8" r="4" fill="#ff0000"/><circle cx="338.9" cy="850.0" r="4" fill="#ff0000"/><circle cx="342.7" cy="861.4" r="4" fill="#ff0000"/><circle cx="350.6" cy="853.1" r="4" fill="#ff0000"/><circle cx="354.8" cy="866.4" r="4" fill="#ff0000"/><circle cx="358.8" cy="866.9" r="4" fill="#ff0000"/><circle cx="361.9" cy="820.3" r="4" fill="#ff0000"/><circle cx="359.5" cy="825.8" r="4" fill="#ff0000"/><circle cx="362.7" cy="831.2" r="4" fill="#ff0000"/><circle cx="360.3" cy="837.5" r="4" fill="#ff0000"/><circle cx="386.1" cy="805.9" r="4" fill="#ff0000"/><circle cx="407.2" cy="817.2" r="4" fill="#ff0000"/><circle cx="395.2" cy="811.2" r="4" fill="#ff0000"/><circle cx="406.4" cy="806.2" r="4" fill="#ff0000"/><circle cx="407.2" cy="810.2" r="4" fill="#ff0000"/><circle cx="404.8" cy="814.8" r="4" fill="#ff0000"/><circle cx="402.5" cy="818.0" r="4" fill="#ff0000"/><circle cx="405.6" cy="821.1" r="4" fill="#ff0000"/><circle cx="408.8" cy="825.8" r="4" fill="#ff0000"/><circle cx="410.3" cy="833.1" r="4" fill="#ff0000"/><circle cx="404.8" cy="836.7" r="4" fill="#ff0000"/><circle cx="401.7" cy="837.5" r="4" fill="#ff0000"/><circle cx="397.8" cy="839.1" r="4" fill="#ff0000"/><circle cx="393.9" cy="840.6" r="4" fill="#ff0000"/><circle cx="390.0" cy="837.0" r="4" fill="#ff0000"/><circle cx="382.2" cy="843.0" r="4" fill="#ff0000"/><circle cx="388.4" cy="844.5" r="4" fill="#ff0000"/><circle cx="406.4" cy="841.4" r="4" fill="#ff0000"/><circle cx="407.2" cy="844.5" r="4" fill="#ff0000"/><circle cx="403.3" cy="845.3" r="4" fill="#ff0000"/><circle cx="402.2" cy="850.8" r="4" fill="#ff0000"/><circle cx="380.6" cy="855.0" r="4" fill="#ff0000"/><circle cx="383.8" cy="857.8" r="4" fill="#ff0000"/><circle cx="388.1" cy="858.6" r="4" fill="#ff0000"/><circle cx="374.4" cy="860.2" r="4" fill="#ff0000"/></g>
<rect x="730.1" y="861.0" width="128.6" height="6.4" fill="url(#cb)" stroke="#222" stroke-width="0.6"/>
<line x1="787.3" y1="867.4" x2="787.3" y2="870.2" stroke="#222" stroke-width="0.7"/><line x1="858.5" y1="867.4" x2="858.5" y2="870.2" stroke="#222" stroke-width="0.7"/>
<g style="text-anchor:middle;stroke:#000;stroke-width:0.4px;letter-spacing:0.1px"><text transform="translate(787.2,883.6) scale(1.024,1)" style="font-size:13.9px">10</text><text transform="translate(858.4,883.6) scale(1.024,1)" style="font-size:13.9px">15</text>
<text transform="translate(794.0,901.7) scale(1.004,1)" style="font-size:16px;letter-spacing:0">Degree in Original Graph</text></g>
</svg>
</body></html>
